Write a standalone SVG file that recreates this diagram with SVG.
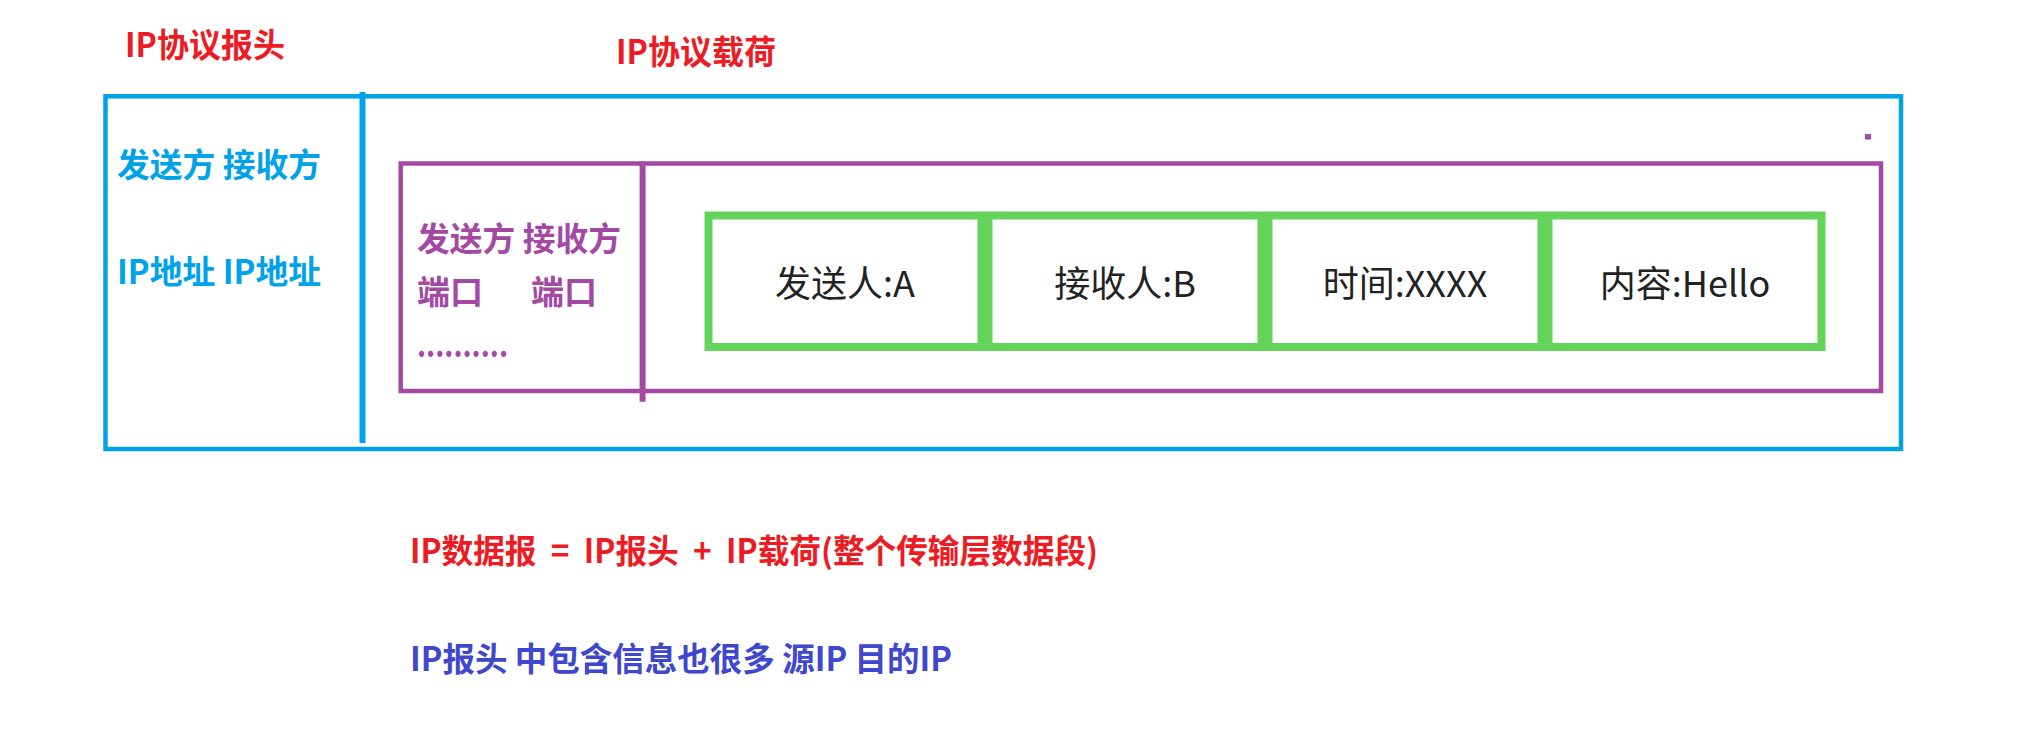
<svg xmlns="http://www.w3.org/2000/svg" width="2029" height="735" viewBox="0 0 2029 735">
<style>
.b{fill:none;stroke:#00a2e8;stroke-width:4.5}
.p{fill:none;stroke:#a349a4;stroke-width:4.5}
.g{fill:none;stroke:#63d35a;stroke-width:8}
.lbl{font-family:"Noto Sans CJK SC","Noto Sans",sans-serif;font-weight:700;font-size:33px}
.cell{font-family:"Noto Sans CJK SC","Noto Sans",sans-serif;font-size:36px;fill:#222;text-anchor:middle}
.red{fill:#ed1c24}
.blue{fill:#00a2e8}
.pur{fill:#a349a4}
.ind{fill:#3f48cc}
</style>
<rect width="2029" height="735" fill="#fff"/>
<g id="title-header"><text class="lbl red" x="125" y="57" textLength="160" lengthAdjust="spacingAndGlyphs">IP协议报头</text></g>
<g id="title-payload"><text class="lbl red" x="616" y="64" textLength="160" lengthAdjust="spacingAndGlyphs">IP协议载荷</text></g>
<g id="ip-packet">
<rect class="b" x="105.5" y="96.3" width="1795.5" height="352.7"/>
<line x1="362.5" y1="92" x2="362.5" y2="443" stroke="#00a2e8" stroke-width="6"/>
</g>
<g id="ip-header-fields">
<text class="lbl blue" x="117" y="177" textLength="204" lengthAdjust="spacingAndGlyphs">发送方 接收方</text>
<text class="lbl blue" x="117" y="284" textLength="204" lengthAdjust="spacingAndGlyphs">IP地址 IP地址</text>
</g>
<g id="transport-segment">
<rect class="p" x="400.7" y="163.5" width="1480.3" height="227.5"/>
<line x1="642.6" y1="161.5" x2="642.6" y2="401.7" stroke="#a349a4" stroke-width="6"/>
<rect x="1865" y="134" width="6" height="5.5" fill="#a349a4"/>
</g>
<g id="transport-header-fields">
<text class="lbl pur" x="417" y="251" textLength="204" lengthAdjust="spacingAndGlyphs">发送方 接收方</text>
<text class="lbl pur" y="304"><tspan x="417">端口</tspan><tspan x="531">端口</tspan></text>
<text class="lbl pur" x="417" y="357" textLength="91" lengthAdjust="spacingAndGlyphs">..........</text>
</g>
<g id="cell-sender">
<rect class="g" x="708.5" y="215.5" width="273" height="131.5"/>
<text class="cell" x="845" y="297">发送人:A</text>
</g>
<g id="cell-receiver">
<rect class="g" x="988.5" y="215.5" width="273" height="131.5"/>
<text class="cell" x="1125" y="297">接收人:B</text>
</g>
<g id="cell-time">
<rect class="g" x="1268.5" y="215.5" width="273" height="131.5"/>
<text class="cell" x="1405" y="297">时间:XXXX</text>
</g>
<g id="cell-content">
<rect class="g" x="1548.5" y="215.5" width="273" height="131.5"/>
<text class="cell" x="1685" y="297">内容:Hello</text>
</g>
<g id="note-datagram"><text class="lbl red" x="410" y="563" xml:space="preserve" textLength="688" lengthAdjust="spacingAndGlyphs">IP数据报  =  IP报头  +  IP载荷(整个传输层数据段)</text></g>
<g id="note-header"><text class="lbl ind" x="410" y="671" textLength="542" lengthAdjust="spacingAndGlyphs">IP报头 中包含信息也很多 源IP 目的IP</text></g>
<g id="connectors"></g>
</svg>
